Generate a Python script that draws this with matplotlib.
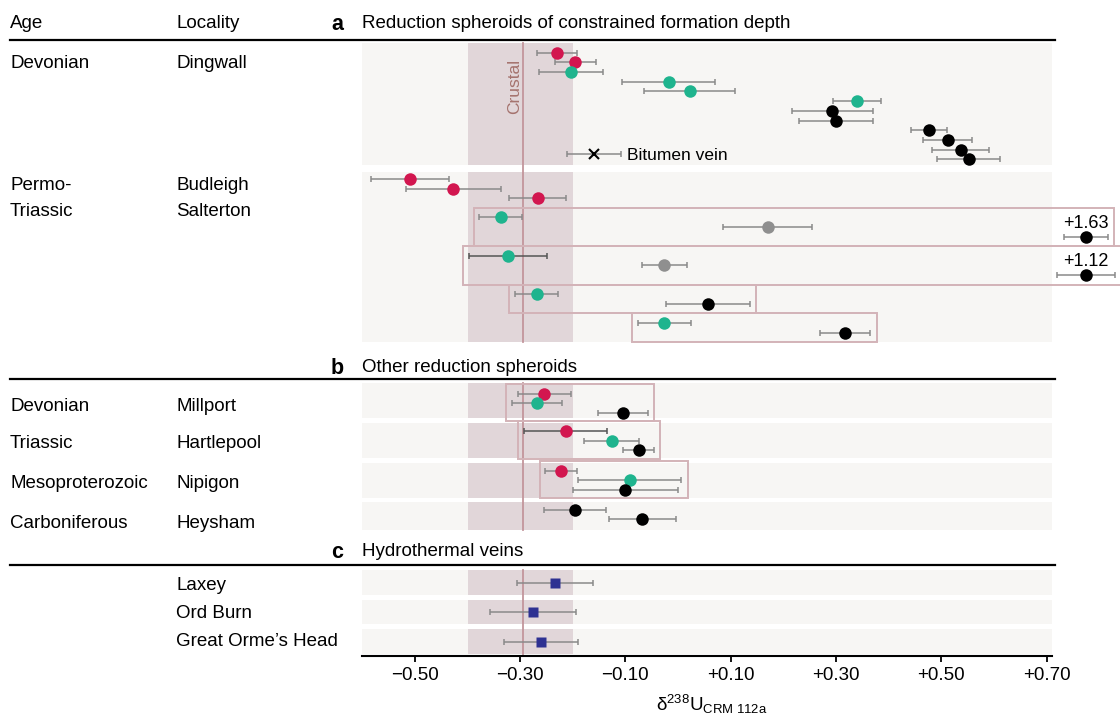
import matplotlib
matplotlib.use('Agg')
import matplotlib.pyplot as plt
from matplotlib.patches import Rectangle
from matplotlib.lines import Line2D

plt.rcParams['font.family'] = ['Liberation Sans', 'DejaVu Sans']
plt.rcParams['mathtext.fontset'] = 'custom'
plt.rcParams['mathtext.rm'] = 'Liberation Sans'
plt.rcParams['mathtext.it'] = 'Liberation Sans:italic'

# ------------------------------------------------------------------ data
tick_values = [-0.5, -0.3, -0.1, 0.1, 0.3, 0.5, 0.7]
crustal_mean = -0.294
crustal_low = -0.398
crustal_high = -0.200

# panel a, Dingwall
dingwall_values = [-0.229, -0.195, -0.203, -0.018, 0.022, 0.340,
                   0.293, 0.300, 0.477, 0.512, 0.537, 0.552]
dingwall_errors = [0.038, 0.039, 0.061, 0.088, 0.086, 0.046,
                   0.077, 0.071, 0.034, 0.047, 0.054, 0.060]
dingwall_types = ['R', 'R', 'T', 'T', 'T', 'T', 'K', 'K', 'K', 'K', 'K', 'K']
bitumen_value = -0.159
bitumen_error = 0.051

# panel a, Budleigh Salterton (group 0 = not boxed)
budleigh_values = [-0.509, -0.427, -0.266, -0.337, 0.170, 1.63,
                   -0.323, -0.026, 1.12, -0.268, 0.057, -0.026, 0.317]
budleigh_errors = [0.074, 0.090, 0.054, 0.040, 0.085, 0.042,
                   0.074, 0.043, 0.055, 0.041, 0.079, 0.050, 0.048]
budleigh_types = ['R', 'R', 'R', 'T', 'G', 'K', 'T', 'G', 'K', 'T', 'K', 'T', 'K']
budleigh_groups = [0, 0, 0, 1, 1, 1, 2, 2, 2, 3, 3, 4, 4]

# panel b
millport_values = [-0.254, -0.268, -0.104]
millport_errors = [0.050, 0.048, 0.047]
millport_types = ['R', 'T', 'K']
hartlepool_values = [-0.213, -0.126, -0.075]
hartlepool_errors = [0.079, 0.052, 0.029]
hartlepool_types = ['R', 'T', 'K']
nipigon_values = [-0.222, -0.092, -0.100]
nipigon_errors = [0.030, 0.098, 0.100]
nipigon_types = ['R', 'T', 'K']
heysham_values = [-0.195, -0.068]
heysham_errors = [0.059, 0.064]
heysham_types = ['K', 'K']

# panel c
vein_localities = ['Laxey', 'Ord Burn', 'Great Orme\u2019s Head']
vein_values = [-0.233, -0.275, -0.260]
vein_errors = [0.072, 0.082, 0.071]

# ------------------------------------------------------------------ style
W, H = 1120, 718
COLORS = {'R': '#d2164f', 'T': '#1fb48e', 'K': '#000000', 'G': '#8f8f8f'}
ERR_C = '#8a8a8a'
ERR_DARK = '#555555'
BG = '#f7f6f4'
BAND = '#e1d6d9'
CRUST_LINE = '#c3959b'
BOX_EDGE = '#d3b3b8'
FS = 13.5
XMIN, XMAX = -0.60, 0.71
OFFSCALE_X = 0.774


def fx(px):
    return px / W


def fy(py):
    return 1 - py / H


fig = plt.figure(figsize=(W / 100, H / 100), dpi=100)
fig.patch.set_facecolor('white')
ax = fig.add_axes([fx(362), fy(656), (1052 - 362) / W, (656 - 40) / H])
ax.set_xlim(XMIN, XMAX)
ax.set_ylim(656, 40)
ax.patch.set_alpha(0)
for s in ['left', 'right', 'top']:
    ax.spines[s].set_visible(False)
ax.spines['bottom'].set_linewidth(1.5)
ax.set_yticks([])
ax.set_xticks(tick_values)
ax.set_xticklabels([('+' if v > 0 else '\u2212') + f'{abs(v):.2f}' for v in tick_values])
ax.tick_params(axis='x', direction='out', length=4, width=1.3, pad=4, labelsize=FS)

rows = {  # (top, bottom) in pixel-like y units
    'dingwall': (43, 165), 'budleigh': (172, 342),
    'millport': (383, 418), 'hartlepool': (423, 458),
    'nipigon': (463, 498), 'heysham': (502, 530),
    'laxey': (570, 595), 'ordburn': (600, 624), 'orme': (629, 654),
}
for top, bot in rows.values():
    ax.add_patch(Rectangle((XMIN, top), XMAX - XMIN, bot - top, facecolor=BG,
                           edgecolor='none', zorder=0))
    ax.add_patch(Rectangle((crustal_low, top), crustal_high - crustal_low, bot - top,
                           facecolor=BAND, edgecolor='none', zorder=0.5))

for top, bot in [(43, 342), (383, 530), (570, 654)]:
    ax.plot([crustal_mean, crustal_mean], [top, bot], color=CRUST_LINE, lw=1.3, zorder=0.8)

ax.text(crustal_mean - 0.016, 86, 'Crustal', rotation=90, ha='center', va='center',
        color='#a5736e', fontsize=12.5, zorder=1)


def point(x, y, err, kind, marker='o', ms=9, ecol=ERR_C):
    xd = x
    if x > XMAX:
        xd = OFFSCALE_X
        ax.text(xd, y - 13.5, f'+{x:.2f}', ha='center', va='center', fontsize=13, zorder=5)
    ax.errorbar([xd], [y], xerr=[err], fmt='none', ecolor=ecol, elinewidth=1.1,
                capsize=2.4, capthick=1.1, zorder=2, clip_on=False)
    ax.plot([xd], [y], marker=marker, ms=ms, color=COLORS.get(kind, kind),
            mec='none', linestyle='none', zorder=3, clip_on=False)
    return xd


# Dingwall
D_START, D_STEP = 52.7, 9.69
for i, (v, e, k) in enumerate(zip(dingwall_values, dingwall_errors, dingwall_types)):
    point(v, D_START + i * D_STEP, e, k)
yb = D_START + 10.45 * D_STEP
ax.errorbar([bitumen_value], [yb], xerr=[bitumen_error], fmt='none', ecolor=ERR_C,
            elinewidth=1.1, capsize=2.4, capthick=1.1, zorder=2)
ax.plot([bitumen_value], [yb], marker='x', ms=7, mew=1.5, color='black', zorder=3)
ax.text(bitumen_value + bitumen_error + 0.012, yb, 'Bitumen vein', ha='left',
        va='center_baseline', fontsize=12.5)

# Budleigh Salterton
B_START, B_STEP = 179.0, 9.6
slot = -1
prev = None
slots = []
for g in budleigh_groups:
    if prev is not None and g != prev:
        slot += 1
    slot += 1
    slots.append(slot)
    prev = g
dark_errors = {('budleigh', 6), ('hartlepool', 0)}
groups = {}
for i, (v, e, k, g, s) in enumerate(zip(budleigh_values, budleigh_errors, budleigh_types,
                                         budleigh_groups, slots)):
    y = B_START + s * B_STEP
    ec = ERR_DARK if ('budleigh', i) in dark_errors else ERR_C
    xd = point(v, y, e, k, ecol=ec)
    groups.setdefault(g, []).append((xd - e, xd + e, s))


def box(x0, x1, y0, y1):
    ax.add_patch(Rectangle((x0, y0), x1 - x0, y1 - y0, facecolor='none',
                           edgecolor=BOX_EDGE, lw=1.4, zorder=1.5, clip_on=False))


for g, items in groups.items():
    if g == 0:
        continue
    x0 = min(a for a, _, _ in items) - 0.011
    x1 = max(b for _, b, _ in items) + 0.012
    s0 = min(s for _, _, s in items) - 1
    s1 = max(s for _, _, s in items) + 1
    box(x0, x1, B_START + s0 * B_STEP, B_START + s1 * B_STEP)

# panel b
P_STEP = 9.4
panel_b = [('millport', millport_values, millport_errors, millport_types, 394.0, True),
           ('hartlepool', hartlepool_values, hartlepool_errors, hartlepool_types, 431.5, True),
           ('nipigon', nipigon_values, nipigon_errors, nipigon_types, 471.0, True),
           ('heysham', heysham_values, heysham_errors, heysham_types, 510.0, False)]
for name, vals, errs, kinds, y0, boxed in panel_b:
    for i, (v, e, k) in enumerate(zip(vals, errs, kinds)):
        ec = ERR_DARK if (name, i) in dark_errors else ERR_C
        point(v, y0 + i * P_STEP, e, k, ecol=ec)
    if boxed:
        x0 = min(v - e for v, e in zip(vals, errs)) - 0.011
        x1 = max(v + e for v, e in zip(vals, errs)) + 0.012
        box(x0, x1, y0 - P_STEP - 1, y0 + len(vals) * P_STEP - 1)

# panel c
for key, v, e in zip(['laxey', 'ordburn', 'orme'], vein_values, vein_errors):
    top, bot = rows[key]
    point(v, (top + bot) / 2 + 0.5, e, '#2e3192', marker='s', ms=7)

# ------------------------------------------------------------------ headers & labels
for yl in [40, 379, 565]:
    fig.add_artist(Line2D([fx(10), fx(1055)], [fy(yl), fy(yl)], color='black', lw=1.6))

VA = 'center_baseline'
fig.text(fx(10), fy(22), 'Age', fontsize=FS, va=VA)
fig.text(fx(176), fy(22), 'Locality', fontsize=FS, va=VA)
for letter, title, yy in [('a', 'Reduction spheroids of constrained formation depth', 22),
                          ('b', 'Other reduction spheroids', 366),
                          ('c', 'Hydrothermal veins', 550)]:
    fig.text(fx(337), fy(yy), letter, fontsize=15.5, fontweight='bold', ha='center', va=VA)
    fig.text(fx(362), fy(yy), title, fontsize=FS, va=VA)

left_labels = [('Devonian', 'Dingwall', 62), ('Permo-', 'Budleigh', 184),
               ('Triassic', 'Salterton', 210), ('Devonian', 'Millport', 404),
               ('Triassic', 'Hartlepool', 441), ('Mesoproterozoic', 'Nipigon', 481),
               ('Carboniferous', 'Heysham', 521)]
for age, loc, yy in left_labels:
    fig.text(fx(10), fy(yy), age, fontsize=FS, va=VA)
    fig.text(fx(176), fy(yy), loc, fontsize=FS, va=VA)
for loc, yy in zip(vein_localities, [583, 612, 640]):
    fig.text(fx(176), fy(yy), loc, fontsize=FS, va=VA)

fig.text(fx(712), fy(711), '\u03b4$^{238}$U$_{\\mathrm{CRM\\ 112a}}$', fontsize=FS,
         ha='center', va='baseline')

fig.savefig('out.png', dpi=100, facecolor='white')
